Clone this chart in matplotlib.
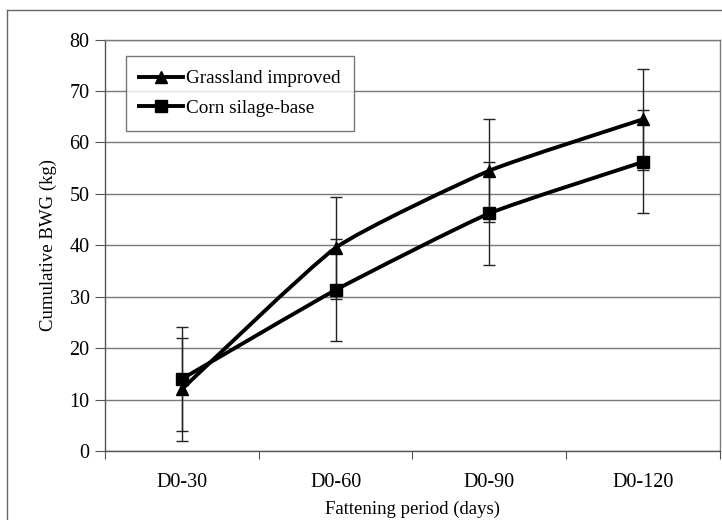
import matplotlib.pyplot as plt
import numpy as np
from matplotlib.path import Path
from matplotlib.patches import PathPatch
from matplotlib.lines import Line2D

plt.rcParams['font.family'] = ['Liberation Serif', 'DejaVu Serif']

periods = ["D0-30", "D0-60", "D0-90", "D0-120"]
grass = [12.0, 39.5, 54.5, 64.5]
grass_err = [10.0, 9.9, 10.0, 9.8]
corn = [14.0, 31.3, 46.2, 56.2]
corn_err = [10.2, 9.9, 10.0, 10.0]


def smooth_path(xs, ys, t=1 / 12):
    # lightly smoothed line: bezier segments through the points
    p = np.column_stack([xs, ys])
    ext = np.vstack([p[0], p, p[-1]])
    verts = [p[0]]
    codes = [Path.MOVETO]
    for i in range(len(p) - 1):
        a, b, c, d = ext[i], ext[i + 1], ext[i + 2], ext[i + 3]
        verts += [b + (c - a) * t, c - (d - b) * t, c]
        codes += [Path.CURVE4] * 3
    return Path(verts, codes)


fig = plt.figure(figsize=(7.22, 5.2), dpi=100)
ax = fig.add_axes([0.1454, 0.1327, 0.8518, 0.7913])

x = np.arange(len(periods))

ax.set_ylim(0, 80)
ax.set_xlim(-0.5, 3.5)
ax.set_yticks(range(0, 81, 10))
ax.yaxis.grid(True, color="#7a7a7a", linewidth=1.0)
ax.set_axisbelow(True)

for ys in (grass, corn):
    ax.add_patch(PathPatch(smooth_path(x, ys), facecolor="none",
                           edgecolor="black", linewidth=2.8, zorder=3))

ax.errorbar(x, corn, yerr=corn_err, fmt="none", ecolor="#222222",
            elinewidth=1.0, capsize=4, capthick=1.0, zorder=4)
ax.errorbar(x, grass, yerr=grass_err, fmt="none", ecolor="#222222",
            elinewidth=1.0, capsize=4, capthick=1.0, zorder=4)
ax.plot(x, corn, linestyle="none", marker="s", markersize=8,
        color="black", zorder=5)
ax.plot(x, grass, linestyle="none", marker="^", markersize=9,
        color="black", zorder=6)

ax.set_xticks(np.arange(-0.5, 3.6, 1.0))
ax.set_xticklabels([])
ax.set_xticks(x, minor=True)
ax.set_xticklabels(periods, minor=True, fontsize=14.5)
ax.tick_params(axis="x", which="minor", length=0, pad=16)
ax.tick_params(axis="x", which="major", length=6, color="#555555")
ax.tick_params(axis="y", length=7, color="#555555", labelsize=14.5, pad=4)

for s in ax.spines.values():
    s.set_color("#7a7a7a")
    s.set_linewidth(1.0)
ax.spines["left"].set_color("#555555")
ax.spines["bottom"].set_color("#555555")

ax.set_xlabel("Fattening period (days)", fontsize=13.5, labelpad=6)
ax.set_ylabel("Cumulative BWG (kg)", fontsize=13.5, labelpad=9)

handles = [
    Line2D([], [], color="black", linewidth=2.8, marker="^", markersize=9),
    Line2D([], [], color="black", linewidth=2.8, marker="s", markersize=8),
]
leg = ax.legend(handles, ["Grassland improved", "Corn silage-base"],
                loc="upper left", bbox_to_anchor=(0.0341, 0.959),
                fontsize=13.8, frameon=True, fancybox=False,
                edgecolor="#555555", handlelength=2.3, handletextpad=0.15,
                borderpad=0.7, labelspacing=0.65, borderaxespad=0)
leg.get_frame().set_linewidth(1.0)

# outer chart border (cut off at right and bottom)
fig.add_artist(Line2D([7 / 722, 7 / 722], [0, 1 - 10 / 520],
                      transform=fig.transFigure, color="#666666", linewidth=1.0))
fig.add_artist(Line2D([7 / 722, 1], [1 - 10 / 520, 1 - 10 / 520],
                      transform=fig.transFigure, color="#666666", linewidth=1.0))

fig.savefig("out.png", dpi=100)
